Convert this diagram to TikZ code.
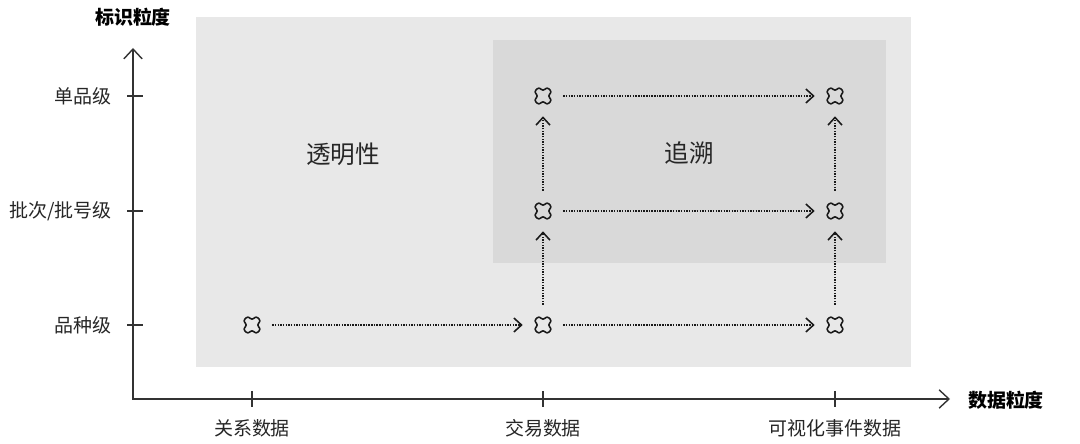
\documentclass[tikz,border=0pt]{standalone}
\usepackage{fontspec}
\setmainfont{Noto Sans CJK SC}
\usetikzlibrary{arrows.meta}

\begin{document}
\begin{tikzpicture}[x=0.025cm, y=-0.025cm,
        axis/.style = {line width=1pt, draw=black!80,
            {Straight Barb[length=7pt,width=13pt]}-{Straight Barb[length=7pt,width=13pt]}},
        flow/.style = {line width=1pt, dash pattern=on 1pt off 0.9pt, draw=black!90,
            -{Straight Barb[length=5.5pt,width=10pt,line width=1.1pt]}},
        tick/.style = {line width=1pt, draw=black!80},
        lbl/.style = {inner sep=0pt, text=black!85, font=\fontsize{13.5pt}{16pt}\selectfont},
        title/.style = {inner sep=0pt, text=black, font=\fontsize{13.5pt}{16pt}\selectfont\bfseries},
        area/.style = {inner sep=0pt, text=black!85, font=\fontsize{17.5pt}{20pt}\selectfont},
        hit/.style = {circle, minimum size=1cm, inner sep=0pt, path picture={
            \draw[black!90, line width=1.1pt, rounded corners=1.8pt,
                shift={(path picture bounding box.center)}]
                (65.28:0.2454cm) -- (90:0.1202cm) -- (114.72:0.2454cm) -- (155.28:0.2454cm)
                -- (180:0.1202cm) -- (204.72:0.2454cm) -- (245.28:0.2454cm) -- (270:0.1202cm)
                -- (294.72:0.2454cm) -- (335.28:0.2454cm) -- (0:0.1202cm) -- (24.72:0.2454cm) -- cycle;}}]
    \useasboundingbox (0,0) rectangle (1080,444);

    % shaded regions
    \fill[black!9] (196,17) rectangle (911,367);
    \fill[black!15] (493,40) rectangle (886,263);
    \node[area] (clear) at (343,154) {透明性};
    \node[area] (trace) at (689,153) {追溯};

    % axes
    \coordinate (ytop) at (133,48);
    \coordinate (o) at (133,399);
    \coordinate (xend) at (950,399);
    \draw[axis] (ytop) -- (o) -- (xend);
    \node[title] (ytitle) at (133,17) {标识粒度};
    \node[title] (xtitle) at (1006,400) {数据粒度};

    \draw[tick] (127,96) -- (143,96);
    \draw[tick] (127,211) -- (143,211);
    \draw[tick] (127,325) -- (143,325);
    \draw[tick] (252,391) -- (252,407);
    \draw[tick] (543,391) -- (543,407);
    \draw[tick] (835,391) -- (835,407);

    \node[lbl, anchor=east] (single) at (112,96) {单品级};
    \node[lbl, anchor=east] (batch) at (112,211) {批次/批号级};
    \node[lbl, anchor=east] (kind) at (112,325) {品种级};
    \node[lbl] (rel) at (252,428) {关系数据};
    \node[lbl] (trade) at (543,428) {交易数据};
    \node[lbl] (event) at (835,428) {可视化事件数据};

    % markers
    \node[hit] (r1) at (252,325) {};
    \node[hit] (t1) at (543,325) {};
    \node[hit] (t2) at (543,211) {};
    \node[hit] (t3) at (543,96) {};
    \node[hit] (v1) at (835,325) {};
    \node[hit] (v2) at (835,211) {};
    \node[hit] (v3) at (835,96) {};

    \draw[flow] (r1) -- (t1);
    \draw[flow] (t1) -- (v1);
    \draw[flow] (t2) -- (v2);
    \draw[flow] (t3) -- (v3);
    \draw[flow] (t1) -- (t2);
    \draw[flow] (t2) -- (t3);
    \draw[flow] (v1) -- (v2);
    \draw[flow] (v2) -- (v3);
\end{tikzpicture}
\end{document}
